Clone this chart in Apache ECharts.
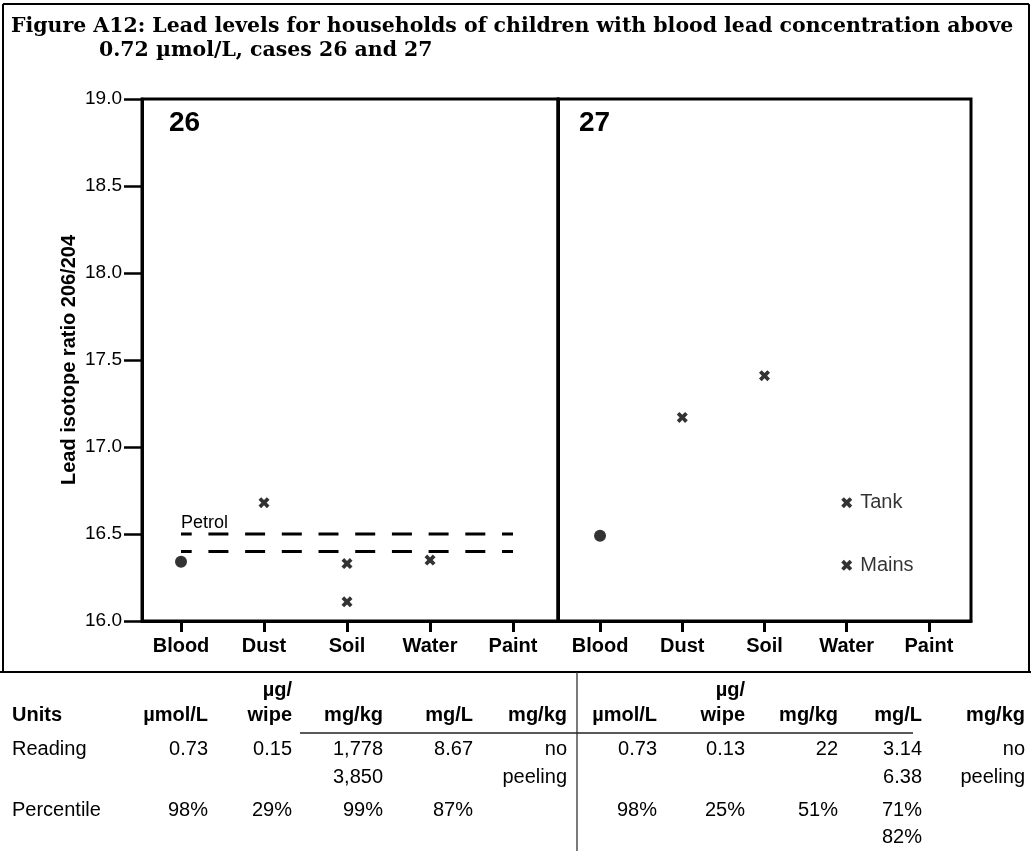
<!DOCTYPE html>
<html><head><meta charset="utf-8">
<script src="https://cdn.jsdelivr.net/npm/echarts@6/dist/echarts.min.js"></script>
<style>html,body{margin:0;padding:0;background:#fff}#c{width:1031px;height:851px}</style>
</head><body><div id="c"></div>
<script>
// ---------- data ----------
const titleLine1 = 'Figure A12: Lead levels for households of children with blood lead concentration above';
const titleLine2 = '0.72 \u00b5mol/L, cases 26 and 27';
const yAxisTitle = 'Lead isotope ratio 206/204';
const categories = ['Blood', 'Dust', 'Soil', 'Water', 'Paint'];
const yTickMin = 16.0, yTickMax = 19.0, yTickStep = 0.5;
const caseNames = ['26', '27'];
const case26Blood = [['Blood', 16.34]];
const case26Sources = [['Dust', 16.68], ['Soil', 16.33], ['Soil', 16.11], ['Water', 16.35]];
const petrolLevels = [16.5, 16.4];
const petrolLabel = 'Petrol';
const case27Blood = [['Blood', 16.49]];
const case27Sources = [['Dust', 17.17], ['Soil', 17.41]];
const case27Water = [['Water', 16.68, 'Tank'], ['Water', 16.32, 'Mains']];

const tableRowNames = ['Units', 'Reading', 'Percentile'];
const unitsTop = ['', '\u00b5g/', '', '', ''];
const units = ['\u00b5mol/L', 'wipe', 'mg/kg', 'mg/L', 'mg/kg'];
const reading26 = ['0.73', '0.15', '1,778', '8.67', 'no'];
const reading26b = ['', '', '3,850', '', 'peeling'];
const pct26 = ['98%', '29%', '99%', '87%', ''];
const pct26b = ['', '', '', '', ''];
const reading27 = ['0.73', '0.13', '22', '3.14', 'no'];
const reading27b = ['', '', '', '6.38', 'peeling'];
const pct27 = ['98%', '25%', '51%', '71%', ''];
const pct27b = ['', '', '', '82%', ''];

// ---------- layout ----------
const FONT = '"Liberation Sans", Arial, Helvetica, sans-serif';
const SERIF = '"DejaVu Serif", "Liberation Serif", serif';
const grids = [
  { left: 142, top: 99, width: 416, height: 522 },
  { left: 558, top: 99, width: 413, height: 522 }
];
const xRanges = [[-0.47, 4.542], [-0.511, 4.511]];
const catIdx = c => categories.indexOf(c);
const catTicks = categories.map((_, i) => i);

const X_PATH = 'path://M0,2.4 L2.4,0 L5,2.6 L7.6,0 L10,2.4 L7.4,5 L10,7.6 L7.6,10 L5,7.4 L2.4,10 L0,7.6 L2.6,5 Z';

function xAxisFor(g) {
  return {
    type: 'value', gridIndex: g, min: xRanges[g][0], max: xRanges[g][1], position: 'bottom',
    axisLine: { show: true, onZero: false, lineStyle: { color: '#000', width: 3 } },
    axisTick: { show: true, customValues: catTicks, length: 11, lineStyle: { color: '#000', width: 3 } },
    axisLabel: { show: true, customValues: catTicks, formatter: v => categories[Math.round(v)],
      margin: 15, fontSize: 20, fontWeight: 'bold', color: '#000', fontFamily: FONT },
    splitLine: { show: false }
  };
}
function yAxisFor(g) {
  const shown = g === 0;
  return {
    type: 'value', gridIndex: g, min: yTickMin, max: yTickMax, interval: yTickStep, position: 'left',
    name: shown ? yAxisTitle : '', nameLocation: 'middle', nameGap: 63, nameRotate: 90,
    nameTextStyle: { fontSize: 20, fontWeight: 'bold', color: '#000', fontFamily: FONT },
    axisLine: { show: true, onZero: false, lineStyle: { color: '#000', width: 3 } },
    axisTick: { show: shown, length: 18, lineStyle: { color: '#000', width: 2.5 } },
    axisLabel: { show: shown, margin: 20, fontSize: 19, color: '#000', fontFamily: FONT,
      formatter: v => v.toFixed(1) },
    splitLine: { show: false }
  };
}
const toPts = arr => arr.map(d => [catIdx(d[0]), d[1]]);

const series = [];
series.push({ type: 'scatter', xAxisIndex: 0, yAxisIndex: 0, symbol: 'circle', symbolSize: 12,
  itemStyle: { color: '#000' }, data: toPts(case26Blood), z: 5 });
series.push({ type: 'scatter', xAxisIndex: 0, yAxisIndex: 0, symbol: X_PATH, symbolSize: 11,
  itemStyle: { color: '#000' }, data: toPts(case26Sources), z: 5 });
petrolLevels.forEach(lv => {
  series.push({ type: 'line', xAxisIndex: 0, yAxisIndex: 0, symbol: 'none', silent: true,
    lineStyle: { color: '#000', width: 3, type: [20, 16.7], dashOffset: 9.3 },
    data: [[catTicks[0], lv], [catTicks[catTicks.length - 1], lv]], z: 4 });
});
series.push({ type: 'scatter', xAxisIndex: 1, yAxisIndex: 1, symbol: 'circle', symbolSize: 12,
  itemStyle: { color: '#000' }, data: toPts(case27Blood), z: 5 });
series.push({ type: 'scatter', xAxisIndex: 1, yAxisIndex: 1, symbol: X_PATH, symbolSize: 11,
  itemStyle: { color: '#000' }, data: toPts(case27Sources), z: 5 });
series.push({ type: 'scatter', xAxisIndex: 1, yAxisIndex: 1, symbol: X_PATH, symbolSize: 11,
  itemStyle: { color: '#000' },
  label: { show: true, position: 'right', distance: 8, formatter: p => case27Water[p.dataIndex][2],
    fontSize: 20, color: '#000', fontFamily: FONT, textBorderWidth: 0 },
  emphasis: { disabled: true },
  data: toPts(case27Water), z: 5 });

// title font size fitted to line width
const mctx = document.createElement('canvas').getContext('2d');
mctx.font = 'bold 20px "DejaVu Serif"';
const tw = mctx.measureText(titleLine1).width || 1000;
const titleSize = Math.max(14, Math.min(22, 20 * 1003 / tw));

const graphic = [];
function txt(text, x, y, opt) {
  graphic.push(Object.assign({ type: 'text', silent: true,
    style: Object.assign({ text, x, y, fill: '#000', textVerticalAlign: 'middle',
      font: '20px ' + FONT }, opt || {}) }));
}
function ln(x1, y1, x2, y2, w, c) {
  graphic.push({ type: 'line', silent: true, shape: { x1, y1, x2, y2 },
    style: { stroke: c || '#000', lineWidth: w } });
}
// frame
ln(3, 4, 1029, 4, 2);
ln(3, 4, 3, 672, 2);
ln(1029, 4, 1029, 672, 2);
ln(0, 672, 1031, 672, 2);
ln(577, 672, 577, 851, 1.2, '#222');
ln(300, 733, 913, 733, 1.5, '#222');
// title
txt(titleLine1, 11, 27, { font: 'bold ' + titleSize.toFixed(2) + 'px ' + SERIF, textAlign: 'left' });
txt(titleLine2, 99, 51, { font: 'bold ' + titleSize.toFixed(2) + 'px ' + SERIF, textAlign: 'left' });
// case numbers
txt(caseNames[0], 169, 123, { font: 'bold 28px ' + FONT, textAlign: 'left' });
txt(caseNames[1], 579, 123, { font: 'bold 28px ' + FONT, textAlign: 'left' });
// table
const colRight = [[208, 292, 383, 473, 567], [657, 745, 838, 922, 1025]];
const rowY = { top: 690, units: 715, r1: 749, r2: 777, p1: 810, p2: 837 };
txt(tableRowNames[0], 12, rowY.units, { font: 'bold 20px ' + FONT, textAlign: 'left' });
txt(tableRowNames[1], 12, rowY.r1, { textAlign: 'left' });
txt(tableRowNames[2], 12, rowY.p1, { textAlign: 'left' });
const blocks = [[reading26, reading26b, pct26, pct26b], [reading27, reading27b, pct27, pct27b]];
[0, 1].forEach(b => {
  colRight[b].forEach((x, i) => {
    if (unitsTop[i]) txt(unitsTop[i], x, rowY.top, { font: 'bold 20px ' + FONT, textAlign: 'right' });
    txt(units[i], x, rowY.units, { font: 'bold 20px ' + FONT, textAlign: 'right' });
    const [r, rb, p, pb] = blocks[b];
    if (r[i]) txt(r[i], x, rowY.r1, { textAlign: 'right' });
    if (rb[i]) txt(rb[i], x, rowY.r2, { textAlign: 'right' });
    if (p[i]) txt(p[i], x, rowY.p1, { textAlign: 'right' });
    if (pb[i]) txt(pb[i], x, rowY.p2, { textAlign: 'right' });
  });
});

const chart = echarts.init(document.getElementById('c'), null, { renderer: 'canvas' });
chart.setOption({
  animation: false,
  backgroundColor: '#fff',
  grid: grids.map(g => Object.assign({ show: true, borderColor: '#000', borderWidth: 3,
    backgroundColor: 'transparent', containLabel: false }, g)),
  xAxis: [xAxisFor(0), xAxisFor(1)],
  yAxis: [yAxisFor(0), yAxisFor(1)],
  series,
  graphic
});
// Petrol label anchored to the upper petrol line start
const pp = chart.convertToPixel({ gridIndex: 0 }, [catTicks[0], petrolLevels[0]]);
graphic.push({ type: 'text', silent: true,
  style: { text: petrolLabel, x: pp[0], y: pp[1] - 11, fill: '#000', textAlign: 'left',
    textVerticalAlign: 'middle', font: '18px ' + FONT } });
chart.setOption({ graphic });
</script>
</body></html>
